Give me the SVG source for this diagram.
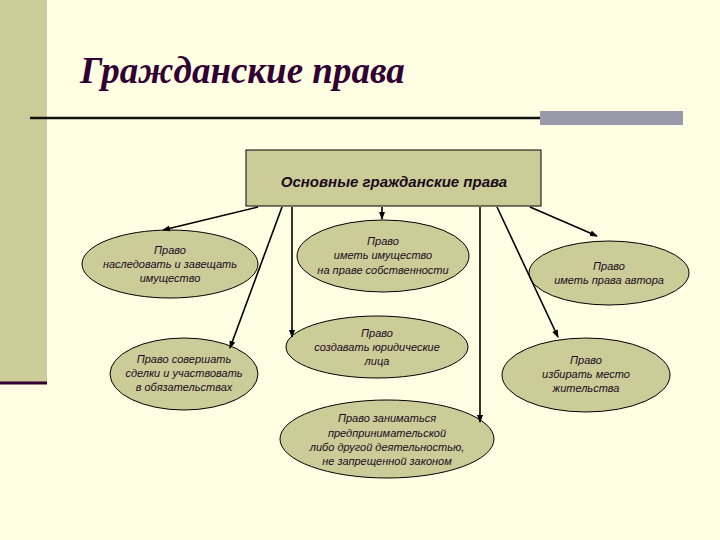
<svg xmlns="http://www.w3.org/2000/svg" width="720" height="540" viewBox="0 0 720 540">
<defs>
<marker id="a" markerWidth="8" markerHeight="8" refX="7" refY="4" orient="auto" markerUnits="userSpaceOnUse"><path d="M0,1 L8,4 L0,7 Z" fill="#000"/></marker>
<style>
.e{fill:#cccc99;stroke:#000;stroke-width:1}
.t{font-family:"Liberation Sans",Arial,sans-serif;font-style:italic;font-size:11px;fill:#1a0a1a;text-anchor:middle}
.c line{stroke:#000;stroke-width:1.6;marker-end:url(#a)}
</style>
</defs>
<rect width="720" height="540" fill="#ffffe3"/>
<rect x="0" y="0" width="47" height="383" fill="#cccc99"/>
<line x1="0" y1="383" x2="47" y2="383" stroke="#330033" stroke-width="3"/>
<text x="80" y="83" font-family="Liberation Serif,serif" font-style="italic" font-weight="bold" font-size="37" fill="#330033">Гражданские права</text>
<line x1="30" y1="118" x2="541" y2="118" stroke="#111" stroke-width="2.5"/>
<rect x="540" y="111" width="143" height="14" fill="#9999aa"/>
<g id="root"><rect x="246" y="150" width="295" height="56" class="e"/>
<text x="394" y="187" font-family="Liberation Sans,Arial,sans-serif" font-style="italic" font-weight="bold" font-size="15" fill="#1a0a1a" text-anchor="middle">Основные гражданские права</text></g>
<g id="n1"><ellipse cx="170" cy="264" rx="88" ry="34" class="e"/><text class="t" x="170" y="254">Право</text><text class="t" x="170" y="268">наследовать и завещать</text><text class="t" x="170" y="282">имущество</text></g>
<g id="n2"><ellipse cx="383" cy="256" rx="86" ry="36" class="e"/><text class="t" x="383" y="245">Право</text><text class="t" x="383" y="259">иметь имущество</text><text class="t" x="383" y="274">на праве собственности</text></g>
<g id="n3"><ellipse cx="184" cy="374" rx="74" ry="36" class="e"/><text class="t" x="184" y="363">Право совершать</text><text class="t" x="184" y="377">сделки и участвовать</text><text class="t" x="184" y="391">в обязательствах</text></g>
<g id="n4"><ellipse cx="377" cy="347" rx="91" ry="31" class="e"/><text class="t" x="377" y="337">Право</text><text class="t" x="377" y="351">создавать юридические</text><text class="t" x="377" y="365">лица</text></g>
<g id="n5"><ellipse cx="387" cy="439" rx="107" ry="39" class="e"/><text class="t" x="387" y="422">Право заниматься</text><text class="t" x="387" y="437">предпринимательской</text><text class="t" x="387" y="451">либо другой деятельностью,</text><text class="t" x="387" y="465">не запрещенной законом</text></g>
<g id="n6"><ellipse cx="609" cy="273" rx="80" ry="32" class="e"/><text class="t" x="609" y="270">Право</text><text class="t" x="609" y="284">иметь права автора</text></g>
<g id="n7"><ellipse cx="586" cy="375" rx="84" ry="37" class="e"/><text class="t" x="586" y="364">Право</text><text class="t" x="586" y="378">избирать место</text><text class="t" x="586" y="392">жительства</text></g>
<g class="c" id="connectors">
<line x1="258" y1="207" x2="163" y2="230"/>
<line x1="282" y1="207" x2="230" y2="348"/>
<line x1="292" y1="207" x2="292" y2="337"/>
<line x1="382" y1="207" x2="382" y2="219"/>
<line x1="480" y1="207" x2="480" y2="422"/>
<line x1="497" y1="207" x2="558" y2="337"/>
<line x1="530" y1="207" x2="597" y2="236"/>
</g>
</svg>
